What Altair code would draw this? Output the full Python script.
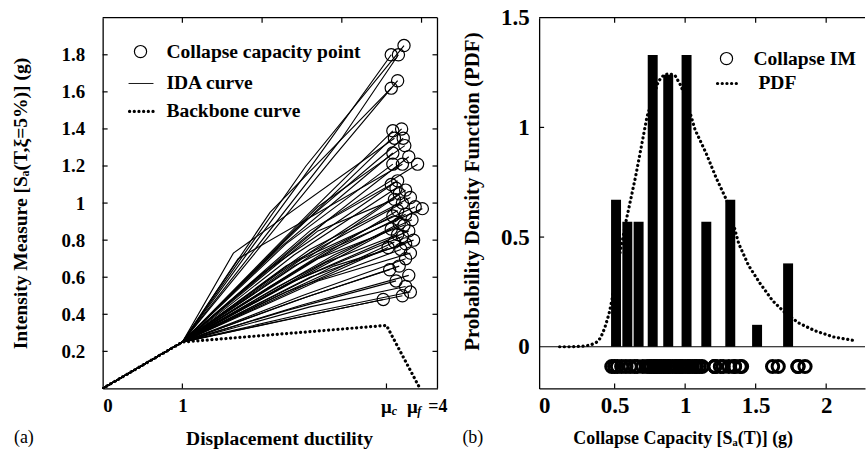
import altair as alt
import pandas as pd

FONT = "Liberation Serif"

# ---------------- (a) IDA curves ----------------
# every record shares the elastic branch, then passes one intermediate
# point before reaching its collapse point
elastic_mu = [0.0, 1.0]
elastic_im = [0.0, 0.25]

collapse_mu = [3.78, 3.62, 3.71, 3.70, 3.62, 3.75, 3.64, 3.66, 3.77, 3.79,
               3.64, 3.84, 3.76, 3.95, 3.64, 3.70, 3.62, 3.68, 3.80, 3.72,
               3.86, 3.66, 3.76, 3.92, 4.01, 3.70, 3.80, 3.64, 3.88, 3.72,
               3.78, 3.62, 3.84, 3.70, 3.76, 3.90, 3.66, 3.80, 3.58, 3.74,
               3.86, 3.80, 3.72, 3.60, 3.84, 3.68, 3.80, 3.86, 3.76, 3.52]
collapse_im = [1.85, 1.80, 1.80, 1.66, 1.62, 1.40, 1.39, 1.35, 1.35, 1.31,
               1.27, 1.25, 1.21, 1.21, 1.21, 1.12, 1.10, 1.08, 1.07, 1.05,
               1.03, 1.02, 1.00, 0.98, 0.97, 0.96, 0.94, 0.93, 0.91, 0.89,
               0.88, 0.86, 0.85, 0.83, 0.82, 0.80, 0.79, 0.78, 0.76, 0.75,
               0.73, 0.70, 0.66, 0.64, 0.61, 0.58, 0.55, 0.52, 0.50, 0.48]
mid_mu = [2.55, 2.45, 3.00, 2.90, 2.10, 2.30, 2.60, 1.64, 2.40, 2.70,
          2.20, 2.50, 1.70, 2.60, 2.30, 2.00, 2.80, 2.40, 2.90, 2.20,
          2.60, 2.70, 2.30, 2.50, 2.80, 2.10, 2.60, 2.40, 2.90, 2.20,
          2.70, 2.50, 2.30, 2.80, 2.40, 2.60, 2.20, 2.90, 2.50, 2.30,
          2.70, 2.50, 2.40, 2.60, 2.50, 2.30, 2.60, 2.50, 2.40, 2.20]
mid_im = [1.20, 1.10, 1.35, 1.25, 0.95, 0.80, 0.95, 0.73, 0.85, 0.98,
          0.75, 0.80, 0.70, 0.85, 0.78, 0.62, 0.90, 0.72, 0.80, 0.62,
          0.75, 0.85, 0.66, 0.70, 0.74, 0.55, 0.68, 0.66, 0.72, 0.55,
          0.70, 0.60, 0.56, 0.68, 0.58, 0.60, 0.50, 0.66, 0.55, 0.52,
          0.58, 0.50, 0.47, 0.50, 0.45, 0.42, 0.44, 0.40, 0.38, 0.36]

backbone_mu = [0.0, 1.0, 3.56, 3.98]
backbone_im = [0.0, 0.25, 0.34, 0.0]

mu_c = 3.56
left_y_ticks = [0.2, 0.4, 0.6, 0.8, 1.0, 1.2, 1.4, 1.6, 1.8]
left_x_labels = [0, 1]
left_top_ticks = [1, 2, 3, 4]
left_bottom_ticks = [1, mu_c]

# ---------------- (b) collapse capacity distribution ----------------
bin_center = [0.51, 0.59, 0.67, 0.77, 0.88, 1.01, 1.15, 1.32, 1.51, 1.73]
bin_density = [0.67, 0.57, 0.57, 1.33, 1.24, 1.33, 0.57, 0.67, 0.10, 0.38]

pdf_x = [0.11, 0.20, 0.28, 0.33, 0.37, 0.40, 0.43, 0.46, 0.48,
         0.53, 0.58, 0.65, 0.73, 0.81, 0.85, 0.89, 0.93, 0.97,
         1.02, 1.07, 1.15, 1.22, 1.30, 1.38, 1.45, 1.53, 1.62, 1.70,
         1.80, 1.92, 2.05, 2.21]
pdf_y = [0.0, 0.0, 0.003, 0.008, 0.02, 0.04, 0.086, 0.15, 0.21,
         0.40, 0.57, 0.78, 1.05, 1.21, 1.24, 1.245, 1.235, 1.19,
         1.10, 0.99, 0.88, 0.77, 0.66, 0.47, 0.37, 0.29, 0.21, 0.16,
         0.11, 0.073, 0.045, 0.027]

rug_level = -0.09
zero_level = [0.0]
right_x_ticks = [0, 0.5, 1, 1.5, 2]
right_y_ticks = [0, 0.5, 1, 1.5]
right_inner_x_ticks = [0.5, 1, 1.5, 2]
right_inner_y_ticks = [0.5, 1]

# ---------------- tables ----------------
rows = []
for i in range(len(collapse_mu)):
    pts = list(zip(elastic_mu, elastic_im)) + [(mid_mu[i], mid_im[i]),
                                               (collapse_mu[i], collapse_im[i])]
    for step, (m, v) in enumerate(pts):
        rows.append({"curve": i, "step": step, "mu": m, "im": v})
ida = pd.DataFrame(rows)
collapse = pd.DataFrame({"mu": collapse_mu, "im": collapse_im,
                         "level": [rug_level] * len(collapse_im)})
backbone = pd.DataFrame({"step": range(len(backbone_mu)), "mu": backbone_mu, "im": backbone_im})
hist = pd.DataFrame({"center": bin_center, "density": bin_density})
pdf = pd.DataFrame({"x": pdf_x, "y": pdf_y})
one = pd.DataFrame({"k": [0]})

W1, W2, H = 336, 327, 372
TICK = 5
DOT = dict(strokeDash=[0.1, 4.6], strokeCap="round", strokeWidth=3.2)


def border(x, x2, y, y2=None):
    enc = dict(x=alt.value(x), x2=alt.value(x2), y=alt.value(y))
    if y2 is not None:
        enc["y2"] = alt.value(y2)
    return alt.Chart(one).mark_rule(color="black", strokeWidth=1.3).encode(**enc)


def label(txt, x, y, size=19.6, weight="bold", align="left"):
    return alt.Chart(one).mark_text(
        text=txt, font=FONT, fontSize=size, fontWeight=weight, align=align,
        baseline="middle", color="black"
    ).encode(x=alt.value(x), y=alt.value(y))


def legend_circle(x, y):
    return alt.Chart(one).mark_point(
        shape="circle", size=150, filled=False, color="black", strokeWidth=1.2, opacity=1
    ).encode(x=alt.value(x), y=alt.value(y))


# ---------------- panel (a) ----------------
xs_l = alt.Scale(domain=[0, 4.2], nice=False, zero=False)
ys_l = alt.Scale(domain=[0, 2.0], nice=False, zero=False)

ida_lines = alt.Chart(ida).mark_line(color="black", strokeWidth=1.15, clip=True).encode(
    x=alt.X("mu:Q", scale=xs_l, axis=alt.Axis(
        orient="bottom", values=left_x_labels, format="~g", labelPadding=8,
        labelFontSize=19, domain=True, title="Displacement ductility",
        titleFontSize=19.6, titleX=177, titleY=50,
        titleBaseline="middle", titleAlign="center")),
    y=alt.Y("im:Q", scale=ys_l, axis=alt.Axis(
        orient="left", values=left_y_ticks, format="~g", labelPadding=18,
        labelFontSize=19, domain=True,
        title="Intensity Measure [Sₐ(T,ξ=5%)] (g)", titleFontSize=19.6,
        titleX=-82, titleY=186, titleAngle=270,
        titleBaseline="middle", titleAlign="center")),
    detail="curve:N",
    order="step:Q",
)

collapse_pts = alt.Chart(collapse).mark_point(
    shape="circle", size=150, filled=False, color="black", strokeWidth=1.2, opacity=1
).encode(
    x=alt.X("mu:Q", scale=xs_l, axis=None),
    y=alt.Y("im:Q", scale=ys_l, axis=None),
)

backbone_line = alt.Chart(backbone).mark_line(color="black", clip=True, **DOT).encode(
    x=alt.X("mu:Q", scale=xs_l, axis=None),
    y=alt.Y("im:Q", scale=ys_l, axis=None),
    order="step:Q",
)

yt_l = pd.DataFrame({"v": left_y_ticks})
tick_l_left = alt.Chart(yt_l).mark_rule(color="black", strokeWidth=1.2).encode(
    y=alt.Y("v:Q", scale=ys_l, axis=None), x=alt.value(0), x2=alt.value(TICK))
tick_l_right = alt.Chart(yt_l).mark_rule(color="black", strokeWidth=1.2).encode(
    y=alt.Y("v:Q", scale=ys_l, axis=None), x=alt.value(W1 - TICK), x2=alt.value(W1))
tick_l_top = alt.Chart(pd.DataFrame({"v": left_top_ticks})).mark_rule(color="black", strokeWidth=1.2).encode(
    x=alt.X("v:Q", scale=xs_l, axis=None), y=alt.value(0), y2=alt.value(TICK))
tick_l_bottom = alt.Chart(pd.DataFrame({"v": left_bottom_ticks})).mark_rule(color="black", strokeWidth=1.2).encode(
    x=alt.X("v:Q", scale=xs_l, axis=None), y=alt.value(H - TICK), y2=alt.value(H))

# ductility label "μc μf =4" under the collapse tick
mu_df = pd.DataFrame({"v": [mu_c]})


def mu_text(txt, dx, dy, size, style="normal", align="center"):
    return alt.Chart(mu_df).mark_text(
        text=txt, dx=dx, dy=dy, fontSize=size, font=FONT, fontWeight="bold",
        fontStyle=style, align=align, baseline="middle", color="black"
    ).encode(x=alt.X("v:Q", scale=xs_l, axis=None), y=alt.value(H + 19))


# keeps the outer margin fixed so the panel sits at a set distance from the edge
anchor = alt.Chart(one).mark_rule(color="white", strokeWidth=1).encode(
    x=alt.value(-101.5), x2=alt.value(-100.5), y=alt.value(-15.5))

panel_a = alt.layer(
    ida_lines, backbone_line, collapse_pts,
    tick_l_left, tick_l_right, tick_l_top, tick_l_bottom,
    border(0, W1, 0), border(W1, W1, 0, H),
    mu_text("μ", 0, 0, 19),
    mu_text("c", 8, 4, 12, "italic"),
    mu_text("μ", 26, 0, 19),
    mu_text("f", 33, 4, 12, "italic"),
    mu_text("=4", 42, 0, 18, align="left"),
    legend_circle(38, 34),
    label("Collapse capacity point", 64, 34),
    alt.Chart(one).mark_rule(color="black", strokeWidth=0.9).encode(
        x=alt.value(26), x2=alt.value(51), y=alt.value(66)),
    label("IDA curve", 64, 66),
    alt.Chart(one).mark_rule(color="black", **DOT).encode(
        x=alt.value(27), x2=alt.value(51), y=alt.value(94)),
    label("Backbone curve", 64, 94),
    label("(a)", -89, 422, size=18, weight="normal"),
    anchor,
).resolve_axis(x="independent", y="independent").properties(width=W1, height=H)

# ---------------- panel (b) ----------------
xs_r = alt.Scale(domain=[0, 2.24], nice=False, zero=False)
ys_r = alt.Scale(domain=[-0.19, 1.5], nice=False, zero=False)

bars = alt.Chart(hist).mark_bar(color="black", size=10).encode(
    x=alt.X("center:Q", scale=xs_r, axis=alt.Axis(
        orient="bottom", values=right_x_ticks, format="~g", labelPadding=6,
        labelFontSize=23, domain=True, title="Collapse Capacity [Sₐ(T)] (g)",
        titleFontSize=18, titleX=144, titleY=50,
        titleBaseline="middle", titleAlign="center")),
    y=alt.Y("density:Q", scale=ys_r, axis=alt.Axis(
        orient="left", values=right_y_ticks, format="~g", labelPadding=10,
        labelFontSize=23, domain=True,
        title="Probability Density Function (PDF)", titleFontSize=21,
        titleX=-67, titleY=174, titleAngle=270,
        titleBaseline="middle", titleAlign="center")),
)

zero_line = alt.Chart(pd.DataFrame({"v": zero_level})).mark_rule(
    color="black", strokeWidth=1).encode(y=alt.Y("v:Q", scale=ys_r, axis=None))

pdf_line = alt.Chart(pdf).mark_line(color="black", clip=True, **DOT).encode(
    x=alt.X("x:Q", scale=xs_r, axis=None),
    y=alt.Y("y:Q", scale=ys_r, axis=None),
)

rug = alt.Chart(collapse).mark_point(
    shape="circle", size=150, filled=False, color="black", strokeWidth=3.0, opacity=1
).encode(
    x=alt.X("im:Q", scale=xs_r, axis=None),
    y=alt.Y("level:Q", scale=ys_r, axis=None),
)

xt_r = pd.DataFrame({"v": right_inner_x_ticks})
tick_r_top = alt.Chart(xt_r).mark_rule(color="black", strokeWidth=1.2).encode(
    x=alt.X("v:Q", scale=xs_r, axis=None), y=alt.value(0), y2=alt.value(TICK))
tick_r_bottom = alt.Chart(xt_r).mark_rule(color="black", strokeWidth=1.2).encode(
    x=alt.X("v:Q", scale=xs_r, axis=None), y=alt.value(H - TICK), y2=alt.value(H))
tick_r_left = alt.Chart(pd.DataFrame({"v": right_inner_y_ticks})).mark_rule(
    color="black", strokeWidth=1.2).encode(
    y=alt.Y("v:Q", scale=ys_r, axis=None), x=alt.value(0), x2=alt.value(TICK))

panel_b = alt.layer(
    bars, zero_line, pdf_line, rug, tick_r_top, tick_r_bottom, tick_r_left,
    border(0, W2, 0),
    legend_circle(188, 41),
    label("Collapse IM", 215, 41),
    alt.Chart(one).mark_rule(color="black", **DOT).encode(
        x=alt.value(179), x2=alt.value(200), y=alt.value(66)),
    label("PDF", 220, 66),
    label("(b)", -77, 422, size=18, weight="normal"),
).resolve_axis(x="independent", y="independent").properties(width=W2, height=H)

chart = alt.hconcat(panel_a, panel_b, spacing=102, bounds="flush").properties(
    padding=0, background="white"
).configure_view(stroke="transparent").configure_axis(
    labelFont=FONT, labelFontWeight="bold", labelColor="black",
    titleFont=FONT, titleFontWeight="bold", titleColor="black",
    grid=False, ticks=False, domainColor="black", domainWidth=1.3,
)

chart.save("out.html", embed_options={"renderer": "svg", "actions": False})
